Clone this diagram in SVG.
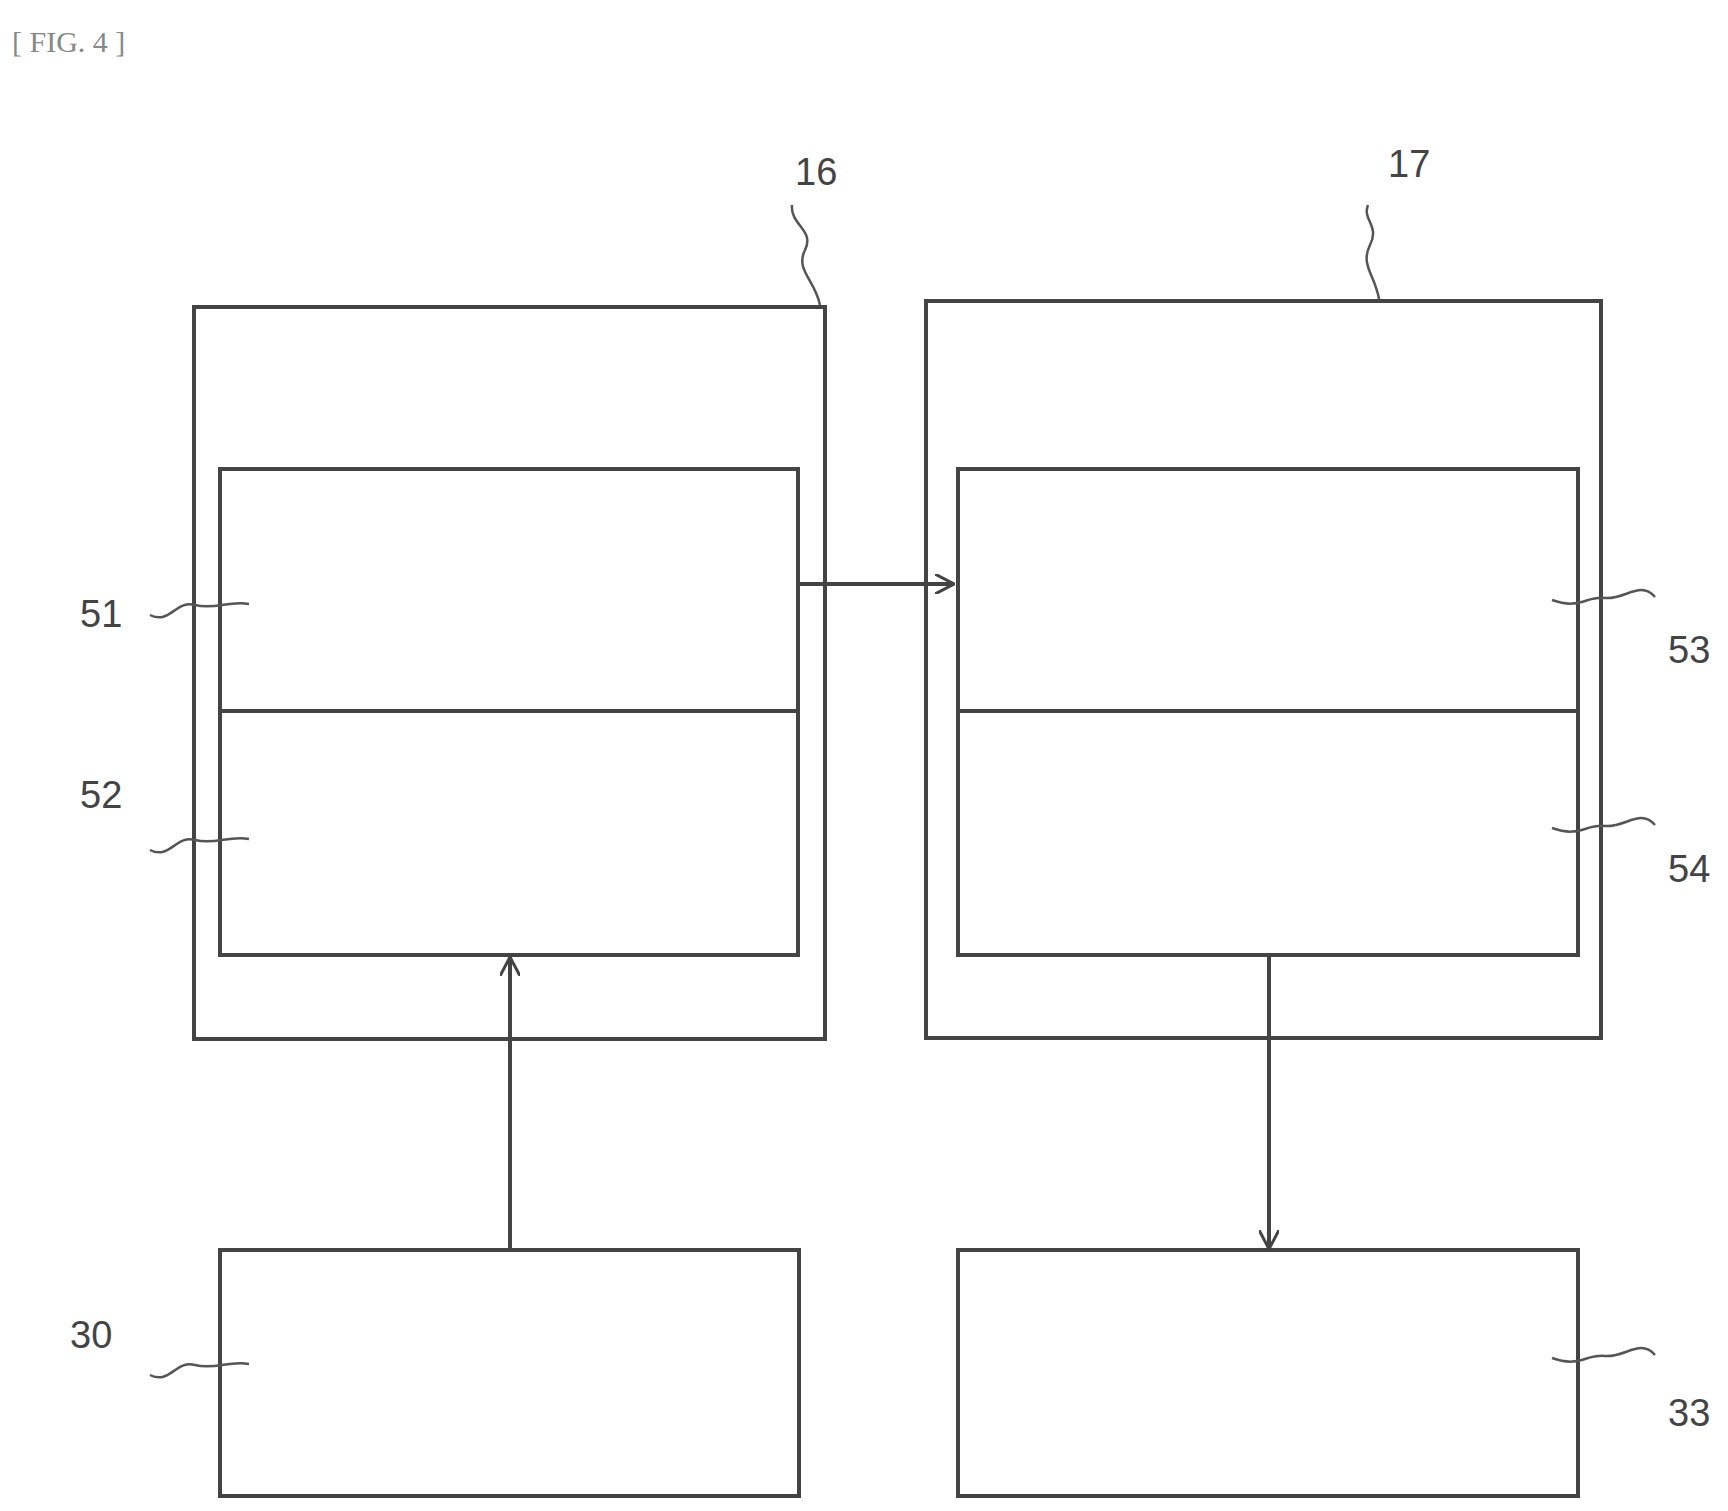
<svg xmlns="http://www.w3.org/2000/svg" width="1728" height="1511" viewBox="0 0 1728 1511">
<style>
.b{fill:none;stroke:#444;stroke-width:4}
.l{fill:none;stroke:#555;stroke-width:2.5}
.t{font-family:"Liberation Sans",sans-serif;font-size:38px;fill:#444}
</style>
<defs><marker id="a" viewBox="0 0 20 20" refX="19" refY="10" markerWidth="20" markerHeight="20" markerUnits="userSpaceOnUse" orient="auto"><path d="M0,0 L19,10 L0,20" fill="none" stroke="#444" stroke-width="3"/></marker></defs>
<rect width="1728" height="1511" fill="#fff"/>
<text x="12" y="52" font-family="Liberation Serif,serif" font-size="30" fill="#888">[ FIG. 4 ]</text>
<g id="n16"><rect class="b" x="194" y="307" width="631" height="732"/><path class="l" d="M820,305 C815,280 795,270 805,250 C815,230 790,225 792,205"/><text class="t" x="795" y="185">16</text></g>
<g id="n17"><rect class="b" x="926" y="301" width="675" height="737"/><path class="l" d="M1379,299 C1375,275 1360,265 1370,245 C1380,225 1362,220 1368,205"/><text class="t" x="1388" y="177">17</text></g>
<g id="n51"><rect class="b" x="220" y="469" width="578" height="242"/><path class="l" d="M150,615 C170,625 175,600 195,605 C215,610 230,600 249,604"/><text class="t" x="80" y="627">51</text></g>
<g id="n52"><rect class="b" x="220" y="711" width="578" height="244"/><path class="l" d="M150,850 C170,860 175,835 195,840 C215,845 230,835 249,839"/><text class="t" x="80" y="808">52</text></g>
<g id="n53"><rect class="b" x="958" y="469" width="620" height="242"/><path class="l" d="M1655,597 C1640,580 1625,600 1605,598 C1585,596 1580,610 1552,600"/><text class="t" x="1668" y="663">53</text></g>
<g id="n54"><rect class="b" x="958" y="711" width="620" height="244"/><path class="l" d="M1655,825 C1640,808 1625,828 1605,826 C1585,824 1580,838 1552,828"/><text class="t" x="1668" y="882">54</text></g>
<g id="n30"><rect class="b" x="220" y="1250" width="579" height="246"/><path class="l" d="M150,1375 C170,1385 175,1360 195,1365 C215,1370 230,1360 249,1364"/><text class="t" x="70" y="1348">30</text></g>
<g id="n33"><rect class="b" x="958" y="1250" width="620" height="246"/><path class="l" d="M1655,1355 C1640,1338 1625,1358 1605,1356 C1585,1354 1580,1368 1552,1358"/><text class="t" x="1668" y="1426">33</text></g>
<g id="connectors"><line class="b" x1="798" y1="584" x2="954" y2="584" marker-end="url(#a)"/><line class="b" x1="510" y1="1250" x2="510" y2="957" marker-end="url(#a)"/><line class="b" x1="1269" y1="955" x2="1269" y2="1249" marker-end="url(#a)"/></g>
</svg>
